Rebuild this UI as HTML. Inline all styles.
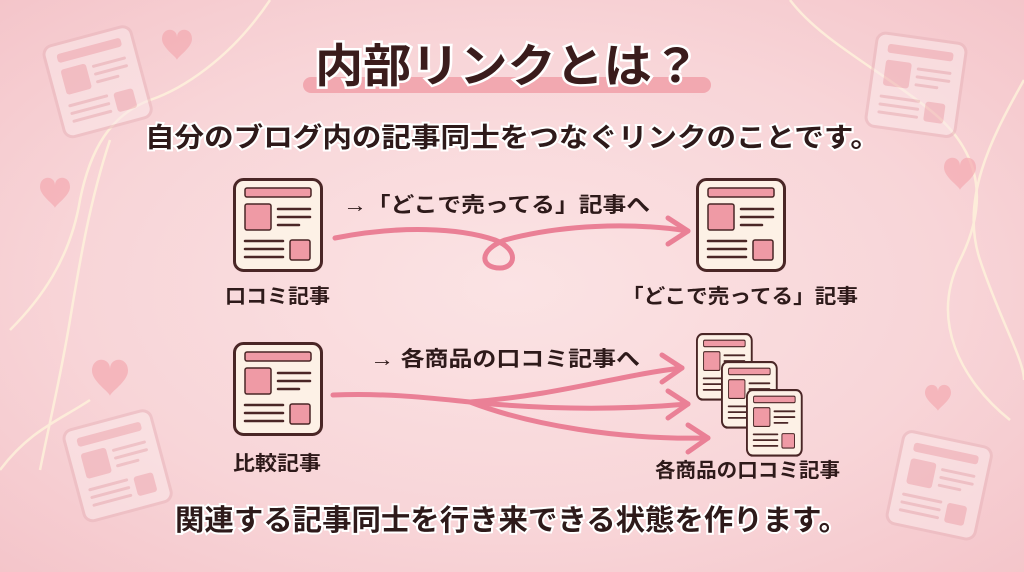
<!DOCTYPE html>
<html><head><meta charset="utf-8"><style>
html,body{margin:0;padding:0;}
body{width:1024px;height:572px;overflow:hidden;background:radial-gradient(ellipse at 50% 50%,#fbe3e4 0%,#f8d5d8 60%,#f4c5ca 100%);font-family:"Liberation Sans","Noto Sans CJK JP",sans-serif;}
svg{position:absolute;left:0;top:0;}
text{font-family:"Liberation Sans","Noto Sans CJK JP",sans-serif;font-weight:bold;fill:#2e1a1a;}
</style></head><body>
<svg width="1024" height="572" viewBox="0 0 1024 572">
<defs>
<g id="doc">
<rect x="1.5" y="1.5" width="87" height="91" rx="9" fill="#fdf1e6" stroke="#4a2626" stroke-width="3"/>
<rect x="12" y="10" width="66" height="9" rx="2" fill="#ef9aa5" stroke="#4a2626" stroke-width="1.5"/>
<rect x="12" y="26" width="26" height="26" rx="2" fill="#ef9aa5" stroke="#4a2626" stroke-width="1.5"/>
<g stroke="#4a2626" stroke-width="2.5" stroke-linecap="round">
<line x1="45" y1="31" x2="77" y2="31"/><line x1="45" y1="39" x2="77" y2="39"/><line x1="45" y1="47" x2="66" y2="47"/>
<line x1="12" y1="63" x2="50" y2="63"/><line x1="12" y1="71" x2="50" y2="71"/><line x1="12" y1="79" x2="50" y2="79"/>
</g>
<rect x="57" y="62" width="20" height="20" rx="2" fill="#ef9aa5" stroke="#4a2626" stroke-width="1.5"/>
</g>
<g id="ghost" opacity="0.55">
<rect x="0" y="0" width="90" height="94" rx="9" fill="#fbe9ea" stroke="#e9b5bb" stroke-width="3"/>
<rect x="12" y="10" width="66" height="9" rx="3" fill="#efb0b7"/>
<rect x="12" y="26" width="26" height="26" rx="3" fill="#efb0b7"/>
<g stroke="#e9b5bb" stroke-width="3" stroke-linecap="round"><line x1="45" y1="31" x2="77" y2="31"/><line x1="45" y1="39" x2="77" y2="39"/><line x1="45" y1="47" x2="66" y2="47"/><line x1="12" y1="63" x2="50" y2="63"/><line x1="12" y1="71" x2="50" y2="71"/><line x1="12" y1="79" x2="50" y2="79"/></g>
<rect x="57" y="62" width="20" height="20" rx="3" fill="#efb0b7"/>
</g>
<path id="heart" d="M0,6 C0,-2 10,-2 10,5 C10,-2 20,-2 20,6 C20,12 10,18 10,20 C10,18 0,12 0,6Z"/>
</defs>
<g fill="none" stroke="#fff6dc" stroke-width="2.5" opacity="0.75">
<path d="M270,0 C230,60 180,90 150,100 C110,115 90,150 80,200 C70,260 40,300 10,330"/>
<path d="M110,140 C90,200 80,260 70,320 C60,380 50,420 40,470"/>
<path d="M790,0 C820,40 880,70 930,110 C980,150 990,200 960,260 C930,320 960,380 1010,420"/>
<path d="M1024,80 C990,140 960,200 980,260 C1000,320 1024,360 1024,380"/>
<path d="M0,470 C30,430 60,420 90,400"/>
</g>
<use href="#ghost" transform="translate(42,48) rotate(-15)"/>
<use href="#ghost" transform="translate(878,32) rotate(8)"/>
<use href="#ghost" transform="translate(62,432) rotate(-15)"/>
<use href="#ghost" transform="translate(905,430) rotate(12)"/>
<g fill="#f4a9b1" opacity="0.7">
<use href="#heart" transform="translate(162,30) scale(1.5)"/>
<use href="#heart" transform="translate(40,178) scale(1.5)"/>
<use href="#heart" transform="translate(944,158) scale(1.6)"/>
<use href="#heart" transform="translate(92,360) scale(1.8)"/>
<use href="#heart" transform="translate(925,385) scale(1.3)"/>
</g>
<rect x="303" y="77" width="408" height="16" rx="8" fill="#f2a8b0"/>
<text x="315" y="82" font-size="46" textLength="385" lengthAdjust="spacingAndGlyphs" stroke="#fff" stroke-width="5" paint-order="stroke" style="fill:#3a1c1c">内部リンクとは？</text>
<text x="145" y="147" font-size="27" textLength="735" lengthAdjust="spacingAndGlyphs" stroke="#fff" stroke-width="4" paint-order="stroke">自分のブログ内の記事同士をつなぐリンクのことです。</text>
<use href="#doc" transform="translate(233,178)"/>
<use href="#doc" transform="translate(696,178)"/>
<text x="343" y="212" font-size="21" textLength="307" lengthAdjust="spacingAndGlyphs">→「どこで売ってる」記事へ</text>
<g fill="none" stroke="#ea8096" stroke-width="5" stroke-linecap="round" stroke-linejoin="round">
<path d="M335,238 C400,225 460,228 495,240 C520,250 515,268 500,268 C480,268 478,250 505,240 C560,225 630,222 688,231"/>
<path d="M668,218 L688,231 L668,244"/>
</g>
<text x="225" y="303" font-size="20" textLength="105" lengthAdjust="spacingAndGlyphs">口コミ記事</text>
<text x="622" y="303" font-size="20" textLength="236" lengthAdjust="spacingAndGlyphs">「どこで売ってる」記事</text>
<use href="#doc" transform="translate(233,342)"/>
<text x="370" y="366" font-size="21" textLength="270" lengthAdjust="spacingAndGlyphs">→ 各商品の口コミ記事へ</text>
<g fill="none" stroke="#ea8096" stroke-width="5" stroke-linecap="round" stroke-linejoin="round">
<path d="M333,395 C390,393 430,398 470,402 C560,395 620,375 682,368"/>
<path d="M470,402 C550,410 620,410 688,404"/>
<path d="M470,402 C530,425 620,440 708,438"/>
<path d="M662,355 L682,368 L662,382"/>
<path d="M668,391 L688,404 L668,418"/>
<path d="M688,425 L708,438 L688,452"/>
</g>
<use href="#doc" transform="translate(696,333) scale(0.63,0.72)"/>
<use href="#doc" transform="translate(721,361) scale(0.63,0.72)"/>
<use href="#doc" transform="translate(746,389) scale(0.63,0.72)"/>
<text x="233" y="470" font-size="20" textLength="88" lengthAdjust="spacingAndGlyphs">比較記事</text>
<text x="655" y="477" font-size="20" textLength="185" lengthAdjust="spacingAndGlyphs">各商品の口コミ記事</text>
<text x="175" y="530" font-size="29" textLength="673" lengthAdjust="spacingAndGlyphs" stroke="#fff" stroke-width="4" paint-order="stroke">関連する記事同士を行き来できる状態を作ります。</text>
</svg>
</body></html>
